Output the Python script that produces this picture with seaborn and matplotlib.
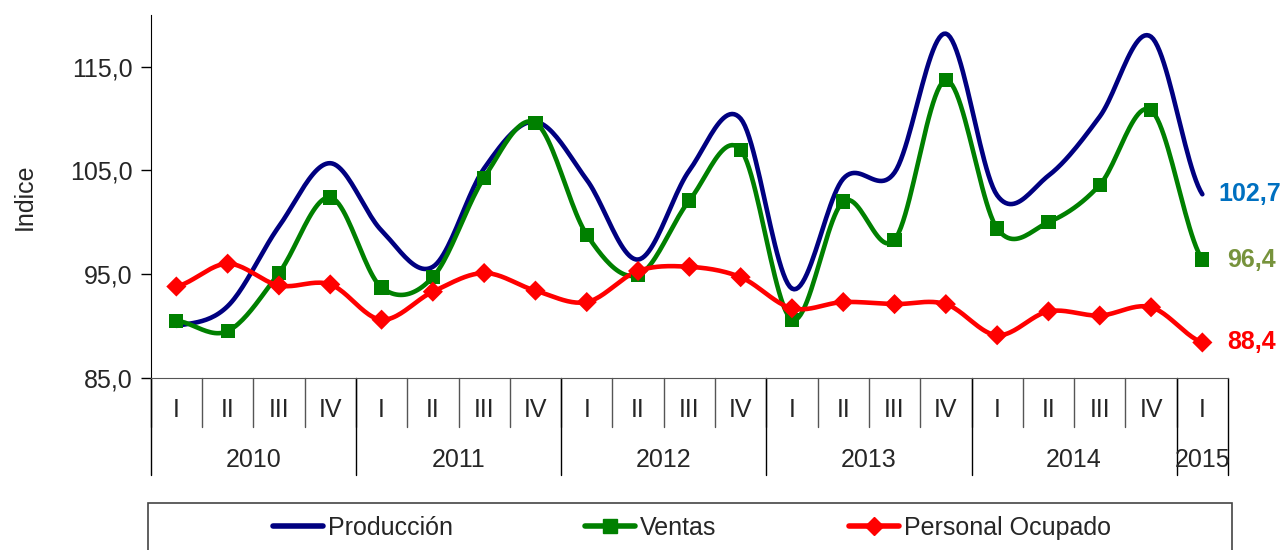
import numpy as np
import pandas as pd
import seaborn as sns
import matplotlib
matplotlib.use('Agg')
from matplotlib import pyplot as plt
from matplotlib.lines import Line2D
from matplotlib.patches import Rectangle

years = ['2010', '2011', '2012', '2013', '2014', '2015']
quarters = ['I', 'II', 'III', 'IV'] * 5 + ['I']
produccion = [90.0, 91.9, 99.6, 105.7, 99.2, 95.7, 105.2, 109.7, 104.1, 96.4, 105.0,
              110.0, 93.6, 104.2, 104.8, 118.2, 102.6, 104.5, 110.2, 117.9, 102.7]
ventas = [90.5, 89.5, 95.1, 102.4, 93.7, 94.7, 104.3, 109.6, 98.8, 94.9, 102.1,
          107.0, 90.6, 102.0, 98.3, 113.7, 99.4, 100.0, 103.6, 110.8, 96.4]
personal = [93.8, 96.0, 93.9, 94.0, 90.6, 93.3, 95.1, 93.4, 92.3, 95.3, 95.7,
            94.7, 91.7, 92.3, 92.1, 92.1, 89.1, 91.4, 91.0, 91.8, 88.4]

cdict = {'Producción': '#000080', 'Ventas': '#008000', 'Personal Ocupado': '#FF0000'}
FS = 18


def smooth(vals, n=24):
    # excel-style smoothed line (catmull-rom bezier), only for drawing
    p = np.r_[vals[0], vals, vals[-1]]
    xs, ys = [], []
    for i in range(len(vals) - 1):
        p0, p1, p2, p3 = p[i:i + 4]
        c1 = p1 + (p2 - p0) / 6
        c2 = p2 - (p3 - p1) / 6
        t = np.linspace(0, 1, n, endpoint=False)
        y = (1 - t) ** 3 * p1 + 3 * (1 - t) ** 2 * t * c1 + 3 * (1 - t) * t ** 2 * c2 + t ** 3 * p2
        xs.extend(i + t)
        ys.extend(y)
    xs.append(len(vals) - 1)
    ys.append(vals[-1])
    return xs, ys


rows = []
for name, vals in [('Producción', produccion), ('Ventas', ventas), ('Personal Ocupado', personal)]:
    xs, ys = smooth(np.array(vals, dtype=float))
    rows += [{'x': a, 'y': b, 'Serie': name} for a, b in zip(xs, ys)]
curves = pd.DataFrame(rows)

pts = pd.DataFrame({
    'x': list(range(len(ventas))) * 2,
    'y': ventas + personal,
    'Serie': ['Ventas'] * len(ventas) + ['Personal Ocupado'] * len(personal),
})

sns.set_style('white')
plt.rcParams['font.family'] = ['Liberation Sans', 'DejaVu Sans']

fig = plt.figure(figsize=(12.82, 5.5), dpi=100)
ax = fig.add_axes([150.7 / 1282, 1 - 377.7 / 550, (1228 - 150.7) / 1282, (377.7 - 15) / 550])

sns.lineplot(data=curves, x='x', y='y', hue='Serie', palette=cdict, sort=False,
             estimator=None, lw=3.3, legend=False, ax=ax, zorder=3)
sns.scatterplot(data=pts, x='x', y='y', hue='Serie', style='Serie', palette=cdict,
                markers={'Ventas': 's', 'Personal Ocupado': 'D'},
                s=105, linewidth=0, legend=False, ax=ax, zorder=4)

ax.set_xlim(-0.5, 20.5)
ax.set_ylim(85, 120)
ax.set_yticks([85, 95, 105, 115])
ax.set_yticklabels(['85,0', '95,0', '105,0', '115,0'], fontsize=FS)
ax.tick_params(axis='y', direction='out', length=7, width=1, color='black', left=True, pad=6)
ax.set_xticks([])
ax.set_xlabel('')
ax.set_ylabel('Indice', fontsize=FS, labelpad=24)
for s in ['top', 'right']:
    ax.spines[s].set_visible(False)
ax.spines['left'].set_color('black')
ax.spines['bottom'].set_color('#555555')

# two level category axis
tr = ax.get_xaxis_transform()
for i, q in enumerate(quarters):
    ax.text(i, -0.089, q, transform=tr, ha='center', va='center', fontsize=FS)
    ax.plot([i - 0.5, i - 0.5], [0, -0.135], transform=tr, color='#555555', lw=1, clip_on=False)
for k, yr in enumerate(years):
    ax.text(4 * k + 1.5 if k < 5 else 20, -0.227, yr, transform=tr, ha='center', va='center', fontsize=FS)
for b in [-0.5, 3.5, 7.5, 11.5, 15.5, 19.5, 20.5]:
    ax.plot([b, b], [0, -0.268], transform=tr, color='black', lw=1, clip_on=False)

# last values
ax.text(20.32, produccion[-1], '102,7', color='#0070C0', fontsize=FS, fontweight='bold',
        ha='left', va='center', clip_on=False)
ax.text(20.48, ventas[-1], '96,4', color='#77933C', fontsize=FS, fontweight='bold',
        ha='left', va='center', clip_on=False)
ax.text(20.48, personal[-1], '88,4', color='#FF0000', fontsize=FS, fontweight='bold',
        ha='left', va='center', clip_on=False)

# legend box
fig.patches.append(Rectangle((148 / 1282, -0.1), (1232 - 148) / 1282, 0.1 + 1 - 503 / 550,
                             transform=fig.transFigure, fill=False, edgecolor='#444444', lw=1.2))
handles = [
    Line2D([], [], color=cdict['Producción'], lw=4),
    Line2D([], [], color=cdict['Ventas'], lw=4, marker='s', markersize=10),
    Line2D([], [], color=cdict['Personal Ocupado'], lw=4, marker='D', markersize=9),
]
fig.legend(handles, list(cdict.keys()), loc='center', bbox_to_anchor=(692 / 1282, 1 - 528 / 550),
           ncol=3, frameon=False, fontsize=FS, handlelength=2.0, handletextpad=0.2,
           columnspacing=5.3)

fig.savefig('out.png', dpi=100)
